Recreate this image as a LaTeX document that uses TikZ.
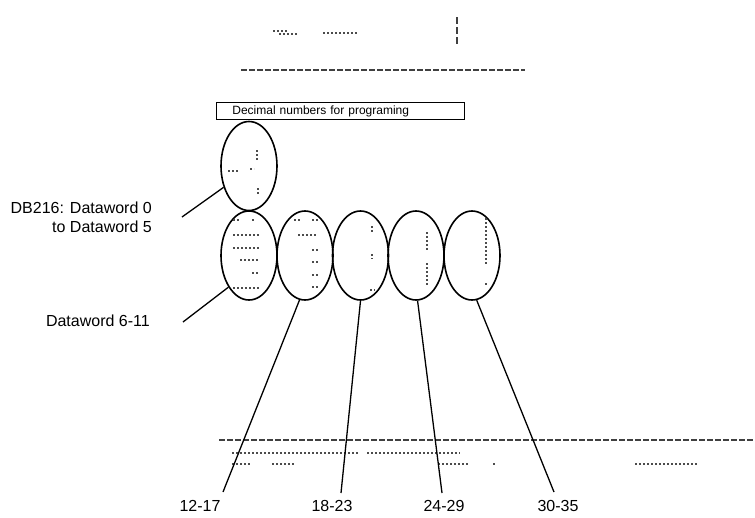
\documentclass[tikz,border=0pt]{standalone}
\usepackage{fontspec}
\setmainfont{Liberation Sans}
\usetikzlibrary{shapes.geometric}
\begin{document}
\begin{tikzpicture}[x=1pt,y=-1pt,
  oval/.style={ellipse,draw,line width=1.6pt,minimum width=56pt,minimum height=89pt,inner sep=0pt},
  leader/.style={line width=1.3pt},
  lbl/.style={font=\fontsize{16}{19}\selectfont,inner sep=0pt},
  ruler/.style={draw=black!75,line width=2pt,dash pattern=on 6pt off 2pt},
  speck/.style={draw=black!70,line width=1.6pt,dash pattern=on 1.5pt off 2.5pt},
]
\useasboundingbox (0,0) rectangle (755,517);

% rulers and faded text remnants
\draw[ruler] (241,70) -- (525,70);
\draw[ruler] (219,440) -- (755,440);
\draw[draw=black!75,line width=2pt,dash pattern=on 7pt off 3pt] (457,17) -- (457,47);
\draw[speck] (273,31) -- (288,31);
\draw[speck] (279,34) -- (297,34);
\draw[speck] (323,33) -- (357,33);
\draw[speck] (232,453) -- (360,453);
\draw[speck] (367,453) -- (460,453);
\draw[speck] (232,464) -- (250,464);
\draw[speck] (272,464) -- (295,464);
\draw[speck] (438,464) -- (468,464);
\draw[speck] (493,464) -- (497,464);
\draw[speck] (635,464) -- (698,464);

% title box
\node (box) [draw,line width=0.8pt,anchor=north west,inner xsep=16pt,inner ysep=0pt,
  text width=216pt,minimum height=17pt,align=left,font=\fontsize{12}{14}\selectfont]
  at (216,102) {Decimal numbers for programing};

% ellipses
\node (e0) [oval] at (249,166) {};
\node (e1) [oval] at (249,255.5) {};
\node (e2) [oval] at (305,255.5) {};
\node (e3) [oval] at (360.5,255.5) {};
\node (e4) [oval] at (416,255.5) {};
\node (e5) [oval] at (472,255.5) {};

% faded contents of the ellipses
\draw[speck] (257,150) -- (257,162);
\draw[speck] (228,171) -- (240,171);
\draw[speck] (250,169) -- (254,169);
\draw[speck] (258,188) -- (258,195);
\draw[speck] (233,220) -- (240,220);
\draw[speck] (252,220) -- (256,220);
\draw[speck] (233,235) -- (260,235);
\draw[speck] (233,248) -- (260,248);
\draw[speck] (240,260) -- (260,260);
\draw[speck] (252,273) -- (260,273);
\draw[speck] (233,288) -- (260,288);
\draw[speck] (294,220) -- (300,220);
\draw[speck] (312,220) -- (318,220);
\draw[speck] (298,235) -- (318,235);
\draw[speck] (312,250) -- (318,250);
\draw[speck] (312,262) -- (318,262);
\draw[speck] (312,275) -- (318,275);
\draw[speck] (312,287) -- (318,287);
\draw[speck] (372,226) -- (372,232);
\draw[speck] (372,254) -- (372,259);
\draw[speck] (370,290) -- (375,290);
\draw[speck] (427,232) -- (427,252);
\draw[speck] (427,263) -- (427,285);
\draw[speck] (486,218) -- (486,265);
\draw[speck] (486,283) -- (486,286);

% labels
\node (la) [lbl,anchor=base east] at (152,213) {DB216: Dataword 0};
\node (lb) [lbl,anchor=base east] at (152,232) {to Dataword 5};
\node (lc) [lbl,anchor=base east] at (150,326) {Dataword 6-11};
\node (l2) [lbl,anchor=base] at (200,511) {12-17};
\node (l3) [lbl,anchor=base] at (332,511) {18-23};
\node (l4) [lbl,anchor=base] at (444,511) {24-29};
\node (l5) [lbl,anchor=base] at (558,511) {30-35};

% leader end points
\coordinate (c0) at (182,217);
\coordinate (c1) at (183,322);
\coordinate (c2) at (223,492);
\coordinate (c3) at (341,493);
\coordinate (c4) at (442,493);
\coordinate (c5) at (554,492);

% leaders
\draw[leader] (e0.220) -- (c0);
\draw[leader] (e1.237) -- (c1);
\draw[leader] (e2.263) -- (c2);
\draw[leader] (e3.south) -- (c3);
\draw[leader] (e4.272) -- (c4);
\draw[leader] (e5.276) -- (c5);
\end{tikzpicture}
\end{document}
